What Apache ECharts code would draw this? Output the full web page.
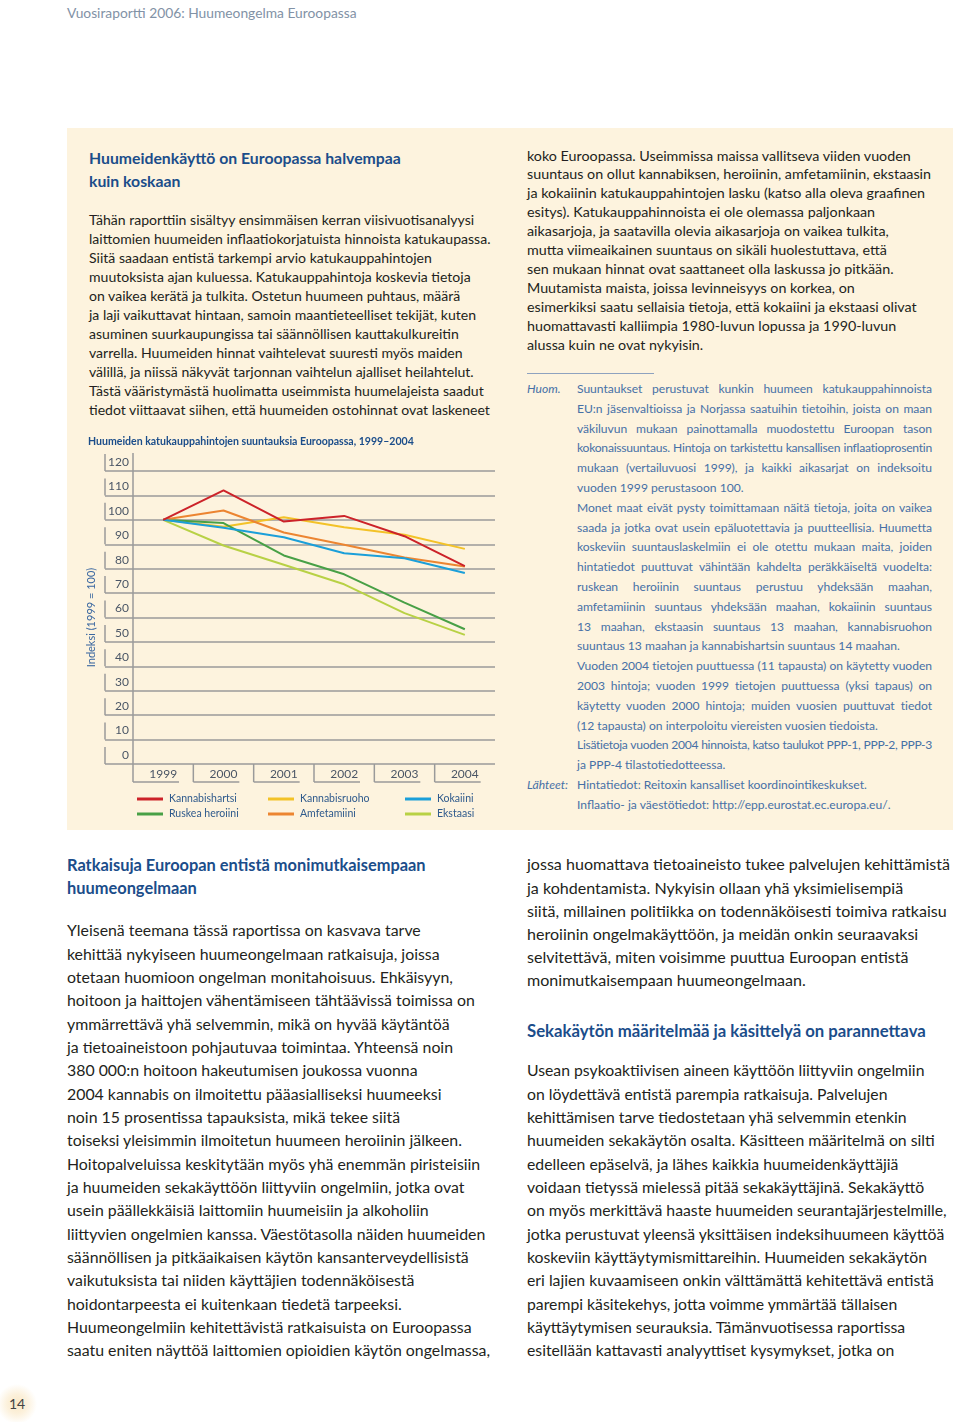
<!DOCTYPE html>
<html><head><meta charset="utf-8">
<script src="https://cdn.jsdelivr.net/npm/echarts/dist/echarts.min.js"></script>
<style>
html,body{margin:0;padding:0;background:#fff;}
body{width:960px;height:1422px;position:relative;overflow:hidden;font-family:Lato,'Open Sans',sans-serif;color:#231f20;}
.abs{position:absolute;}
.ln{white-space:nowrap;}
.j{text-align:justify;text-align-last:justify;white-space:normal;}
.blue{color:#1b4d8a;font-weight:bold;}
.note{color:#4670a6;}
</style></head>
<body>
<div class="abs" id="hdr" style="left:67px;top:4px;font-size:13.5px;line-height:17px;color:#8292a6;"><div class="ln">Vuosiraportti 2006: Huumeongelma Euroopassa</div></div>

<div class="abs" style="left:67px;top:128px;width:886px;height:702px;background:#fdf3de;"></div>

<div class="abs blue" id="t1" style="left:89px;top:145.5px;font-size:16.5px;line-height:23px;">
<div class="ln">Huumeidenkäyttö on Euroopassa halvempaa</div>
<div class="ln">kuin koskaan</div></div>

<div class="abs" id="b1" style="left:89px;top:209.5px;font-size:13.5px;line-height:19px;">
<div class="ln">Tähän raporttiin sisältyy ensimmäisen kerran viisivuotisanalyysi</div>
<div class="ln">laittomien huumeiden inflaatiokorjatuista hinnoista katukaupassa.</div>
<div class="ln">Siitä saadaan entistä tarkempi arvio katukauppahintojen</div>
<div class="ln">muutoksista ajan kuluessa. Katukauppahintoja koskevia tietoja</div>
<div class="ln">on vaikea kerätä ja tulkita. Ostetun huumeen puhtaus, määrä</div>
<div class="ln">ja laji vaikuttavat hintaan, samoin maantieteelliset tekijät, kuten</div>
<div class="ln">asuminen suurkaupungissa tai säännöllisen kauttakulkureitin</div>
<div class="ln">varrella. Huumeiden hinnat vaihtelevat suuresti myös maiden</div>
<div class="ln">välillä, ja niissä näkyvät tarjonnan vaihtelun ajalliset heilahtelut.</div>
<div class="ln">Tästä vääristymästä huolimatta useimmista huumelajeista saadut</div>
<div class="ln">tiedot viittaavat siihen, että huumeiden ostohinnat ovat laskeneet</div>
</div>

<div class="abs" id="b2" style="left:527px;top:146.5px;font-size:13.5px;line-height:18.9px;">
<div class="ln">koko Euroopassa. Useimmissa maissa vallitseva viiden vuoden</div>
<div class="ln">suuntaus on ollut kannabiksen, heroiinin, amfetamiinin, ekstaasin</div>
<div class="ln">ja kokaiinin katukauppahintojen lasku (katso alla oleva graafinen</div>
<div class="ln">esitys). Katukauppahinnoista ei ole olemassa paljonkaan</div>
<div class="ln">aikasarjoja, ja saatavilla olevia aikasarjoja on vaikea tulkita,</div>
<div class="ln">mutta viimeaikainen suuntaus on sikäli huolestuttava, että</div>
<div class="ln">sen mukaan hinnat ovat saattaneet olla laskussa jo pitkään.</div>
<div class="ln">Muutamista maista, joissa levinneisyys on korkea, on</div>
<div class="ln">esimerkiksi saatu sellaisia tietoja, että kokaiini ja ekstaasi olivat</div>
<div class="ln">huomattavasti kalliimpia 1980-luvun lopussa ja 1990-luvun</div>
<div class="ln">alussa kuin ne ovat nykyisin.</div>
</div>

<div class="abs" style="left:527px;top:372.5px;width:127px;height:1px;background:#8ea2bf;"></div>

<div class="abs note" id="lab" style="left:527px;top:379.1px;font-size:12.3px;line-height:19.8px;font-style:italic;">
<div class="ln">Huom.</div>
<div class="ln" style="margin-top:376.2px;">Lähteet:</div>
</div>

<div class="abs note" id="nt" style="left:577px;top:379.1px;width:355px;font-size:12.3px;line-height:19.8px;">
<div class="ln j">Suuntaukset perustuvat kunkin huumeen katukauppahinnoista</div>
<div class="ln j">EU:n jäsenvaltioissa ja Norjassa saatuihin tietoihin, joista on maan</div>
<div class="ln j">väkiluvun mukaan painottamalla muodostettu Euroopan tason</div>
<div class="ln j">kokonaissuuntaus. Hintoja on tarkistettu kansallisen inflaatioprosentin</div>
<div class="ln j">mukaan (vertailuvuosi 1999), ja kaikki aikasarjat on indeksoitu</div>
<div class="ln">vuoden 1999 perustasoon 100.</div>
<div class="ln j">Monet maat eivät pysty toimittamaan näitä tietoja, joita on vaikea</div>
<div class="ln j">saada ja jotka ovat usein epäluotettavia ja puutteellisia. Huumetta</div>
<div class="ln j">koskeviin suuntauslaskelmiin ei ole otettu mukaan maita, joiden</div>
<div class="ln j">hintatiedot puuttuvat vähintään kahdelta peräkkäiseltä vuodelta:</div>
<div class="ln j">ruskean heroiinin suuntaus perustuu yhdeksään maahan,</div>
<div class="ln j">amfetamiinin suuntaus yhdeksään maahan, kokaiinin suuntaus</div>
<div class="ln j">13 maahan, ekstaasin suuntaus 13 maahan, kannabisruohon</div>
<div class="ln">suuntaus 13 maahan ja kannabishartsin suuntaus 14 maahan.</div>
<div class="ln j">Vuoden 2004 tietojen puuttuessa (11 tapausta) on käytetty vuoden</div>
<div class="ln j">2003 hintoja; vuoden 1999 tietojen puuttuessa (yksi tapaus) on</div>
<div class="ln j">käytetty vuoden 2000 hintoja; muiden vuosien puuttuvat tiedot</div>
<div class="ln">(12 tapausta) on interpoloitu viereisten vuosien tiedoista.</div>
<div class="ln j">Lisätietoja vuoden 2004 hinnoista, katso taulukot PPP-1, PPP-2, PPP-3</div>
<div class="ln">ja PPP-4 tilastotiedotteessa.</div>
<div class="ln">Hintatiedot: Reitoxin kansalliset koordinointikeskukset.</div>
<div class="ln">Inflaatio- ja väestötiedot: http://epp.eurostat.ec.europa.eu/.</div>
</div>

<div class="abs" id="chart" style="left:80px;top:430px;width:430px;height:400px;"></div>

<div class="abs blue" id="t2" style="left:67px;top:852.5px;font-size:16.5px;line-height:23px;">
<div class="ln">Ratkaisuja Euroopan entistä monimutkaisempaan</div>
<div class="ln">huumeongelmaan</div></div>

<div class="abs" id="b3" style="left:67px;top:918.3px;font-size:16px;line-height:23.33px;">
<div class="ln">Yleisenä teemana tässä raportissa on kasvava tarve</div>
<div class="ln">kehittää nykyiseen huumeongelmaan ratkaisuja, joissa</div>
<div class="ln">otetaan huomioon ongelman monitahoisuus. Ehkäisyyn,</div>
<div class="ln">hoitoon ja haittojen vähentämiseen tähtäävissä toimissa on</div>
<div class="ln">ymmärrettävä yhä selvemmin, mikä on hyvää käytäntöä</div>
<div class="ln">ja tietoaineistoon pohjautuvaa toimintaa. Yhteensä noin</div>
<div class="ln">380 000:n hoitoon hakeutumisen joukossa vuonna</div>
<div class="ln">2004 kannabis on ilmoitettu pääasialliseksi huumeeksi</div>
<div class="ln">noin 15 prosentissa tapauksista, mikä tekee siitä</div>
<div class="ln">toiseksi yleisimmin ilmoitetun huumeen heroiinin jälkeen.</div>
<div class="ln">Hoitopalveluissa keskitytään myös yhä enemmän piristeisiin</div>
<div class="ln">ja huumeiden sekakäyttöön liittyviin ongelmiin, jotka ovat</div>
<div class="ln">usein päällekkäisiä laittomiin huumeisiin ja alkoholiin</div>
<div class="ln">liittyvien ongelmien kanssa. Väestötasolla näiden huumeiden</div>
<div class="ln">säännöllisen ja pitkäaikaisen käytön kansanterveydellisistä</div>
<div class="ln">vaikutuksista tai niiden käyttäjien todennäköisestä</div>
<div class="ln">hoidontarpeesta ei kuitenkaan tiedetä tarpeeksi.</div>
<div class="ln">Huumeongelmiin kehitettävistä ratkaisuista on Euroopassa</div>
<div class="ln">saatu eniten näyttöä laittomien opioidien käytön ongelmassa,</div>
</div>

<div class="abs" id="b4" style="left:527px;top:852.4px;font-size:16px;line-height:23.2px;">
<div class="ln">jossa huomattava tietoaineisto tukee palvelujen kehittämistä</div>
<div class="ln">ja kohdentamista. Nykyisin ollaan yhä yksimielisempiä</div>
<div class="ln">siitä, millainen politiikka on todennäköisesti toimiva ratkaisu</div>
<div class="ln">heroiinin ongelmakäyttöön, ja meidän onkin seuraavaksi</div>
<div class="ln">selvitettävä, miten voisimme puuttua Euroopan entistä</div>
<div class="ln">monimutkaisempaan huumeongelmaan.</div>
</div>

<div class="abs blue" id="t3" style="left:527px;top:1018.5px;font-size:16.5px;line-height:23px;">
<div class="ln">Sekakäytön määritelmää ja käsittelyä on parannettava</div></div>

<div class="abs" id="b5" style="left:527px;top:1058.3px;font-size:16px;line-height:23.33px;">
<div class="ln">Usean psykoaktiivisen aineen käyttöön liittyviin ongelmiin</div>
<div class="ln">on löydettävä entistä parempia ratkaisuja. Palvelujen</div>
<div class="ln">kehittämisen tarve tiedostetaan yhä selvemmin etenkin</div>
<div class="ln">huumeiden sekakäytön osalta. Käsitteen määritelmä on silti</div>
<div class="ln">edelleen epäselvä, ja lähes kaikkia huumeidenkäyttäjiä</div>
<div class="ln">voidaan tietyssä mielessä pitää sekakäyttäjinä. Sekakäyttö</div>
<div class="ln">on myös merkittävä haaste huumeiden seurantajärjestelmille,</div>
<div class="ln">jotka perustuvat yleensä yksittäisen indeksihuumeen käyttöä</div>
<div class="ln">koskeviin käyttäytymismittareihin. Huumeiden sekakäytön</div>
<div class="ln">eri lajien kuvaamiseen onkin välttämättä kehitettävä entistä</div>
<div class="ln">parempi käsitekehys, jotta voimme ymmärtää tällaisen</div>
<div class="ln">käyttäytymisen seurauksia. Tämänvuotisessa raportissa</div>
<div class="ln">esitellään kattavasti analyyttiset kysymykset, jotka on</div>
</div>

<div class="abs" style="left:0;top:1382px;width:40px;height:44px;background:radial-gradient(circle at 17px 22px,#fae8c6 0,#fcf1dc 10px,rgba(255,255,255,0) 20px);"></div>
<div class="abs" style="left:7px;top:1395px;width:20px;text-align:center;font-size:14px;line-height:18px;color:#444;">14</div>

<script>
// ---------- text fitting ----------
function natW(line){const t=line.textContent;const s=document.createElement('span');s.style.whiteSpace='pre';s.textContent=t;line.textContent='';line.appendChild(s);const w=s.getBoundingClientRect().width;line.textContent=t;return w;}
function fit(id,idx,target){const el=document.getElementById(id);const lines=[...el.querySelectorAll('.ln')];const fs=parseFloat(getComputedStyle(el).fontSize);const k=target/natW(lines[idx]);el.style.fontSize=(fs*k)+'px';return fs*k;}
fit('hdr',0,290);
fit('t1',0,312);
fit('b1',1,402);
fit('b2',0,384);
const nfs=fit('nt',20,290);
document.getElementById('lab').style.fontSize=nfs+'px';
// squeeze over-long justified note lines with letter-spacing so they stay on one line
document.querySelectorAll('#nt .ln').forEach(l=>{const w=natW(l);const max=353;if(w>max){l.style.letterSpacing=((max-w)/l.textContent.length)+'px';}});
fit('t2',0,359);
fit('b3',3,408);
fit('b4',2,420);
fit('t3',0,399);
fit('b5',6,420);

// ---------- chart data ----------
const chartTitle = 'Huumeiden katukauppahintojen suuntauksia Euroopassa, 1999–2004';
const yAxisTitle = 'Indeksi (1999 = 100)';
const years = ['1999','2000','2001','2002','2003','2004'];
const yTicks = [0,10,20,30,40,50,60,70,80,90,100,110,120];
const kannabishartsi = [100, 112.1, 99.3, 101.6, 93.3, 81.0];
const kannabisruoho  = [100, 97.2, 101.1, 97.0, 93.9, 88.1];
const kokaiini       = [100, 96.8, 92.9, 86.3, 84.3, 78.2];
const ruskeaHeroiini = [100, 98.7, 85.4, 77.7, 66.1, 55.2];
const amfetamiini    = [100, 103.8, 94.8, 89.8, 84.6, 80.9];
const ekstaasi       = [100, 89.5, 81.6, 73.6, 61.8, 52.9];

const FONT = 'Lato';
const GRID = '#9a9a9a';
const C = {hartsi:'#cc2229', ruoho:'#f3c227', koka:'#1b9fd9', hero:'#48a046', amfe:'#ec8531', ekst:'#b8d145'};

const mctx = document.createElement('canvas').getContext('2d');
function fsFor(text, weight, target, base){mctx.font = weight+' '+base+'px '+FONT; return base*target/mctx.measureText(text).width;}
const titleFs = fsFor(chartTitle,'bold',326,11);
const legFs = fsFor('Kannabishartsi','normal',68,11);

function lineSeries(name, data, color){
  return {name, type:'line', data, symbol:'none', silent:true, z:3,
    lineStyle:{width:2, color}, itemStyle:{color}};
}
const legBase = {orient:'vertical', top:357, itemWidth:26, itemHeight:3, itemGap:1, icon:'rect', selectedMode:false,
  textStyle:{fontFamily:FONT, fontSize:legFs, lineHeight:14, color:'#2f5a8c', padding:[0,0,0,1]}};

const chart = echarts.init(document.getElementById('chart'), null, {renderer:'canvas'});
chart.setOption({
  animation:false,
  textStyle:{fontFamily:FONT},
  title:{text:chartTitle, left:8, top:6, padding:0,
    textStyle:{fontFamily:FONT, fontSize:titleFs, fontWeight:'bold', color:'#1b4d8a'}},
  grid:{left:53, top:41, width:362, height:293, containLabel:false, outerBoundsMode:'none'},
  xAxis:{type:'category', data:years, boundaryGap:true,
    axisLine:{show:false}, axisTick:{show:false}, splitLine:{show:false},
    axisLabel:{margin:4, fontSize:12, color:'#4b5666', fontFamily:FONT}},
  yAxis:{type:'value', min:0, max:120, interval:10,
    name:yAxisTitle, nameLocation:'middle', nameGap:35, nameRotate:90,
    nameTextStyle:{fontSize:11, color:'#3a67a0', fontFamily:FONT},
    axisLine:{show:false},
    axisTick:{show:true, length:28, lineStyle:{color:GRID, width:1.5}},
    axisLabel:{margin:4, fontSize:12, color:'#4b5666', verticalAlign:'bottom', padding:[0,0,3,0], fontFamily:FONT},
    splitLine:{show:true, lineStyle:{color:GRID, width:1.5}}},
  legend:[
    Object.assign({}, legBase, {left:52, data:['Kannabishartsi','Ruskea heroiini']}),
    Object.assign({}, legBase, {left:183, data:['Kannabisruoho','Amfetamiini']}),
    Object.assign({}, legBase, {left:320, data:['Kokaiini','Ekstaasi']})
  ],
  series:[
    {type:'custom', silent:true, clip:false, z:1,
      data: yTicks.map(v => [years[0], v]),
      renderItem:(params, api) => {
        const cs = params.coordSys;
        const v = api.value(1);
        const y = api.coord([api.value(0), v])[1];
        const st = {stroke:GRID, lineWidth:1.5};
        const ch = [{type:'line', shape:{x1:cs.x-28, y1:y, x2:cs.x-28, y2:y-17}, style:st}];
        if (v === yTicks[yTicks.length-1]) {
          ch.push({type:'line', shape:{x1:cs.x, y1:y-18, x2:cs.x, y2:cs.y+cs.height}, style:st});
        }
        return {type:'group', children:ch};
      }},
    {type:'custom', silent:true, clip:false, z:1,
      data: years.map(y => [y, 0]),
      renderItem:(params, api) => {
        const p = api.coord([api.value(0), 0]);
        const bw = api.size([1, 0])[0];
        const l = p[0] - bw/2;
        const st = {stroke:GRID, lineWidth:1.5};
        return {type:'group', children:[
          {type:'line', shape:{x1:l, y1:p[1], x2:l, y2:p[1]+18}, style:st},
          {type:'line', shape:{x1:l, y1:p[1]+18, x2:l+46, y2:p[1]+18}, style:st}
        ]};
      }},
    lineSeries('Kannabisruoho', kannabisruoho, C.ruoho),
    lineSeries('Ekstaasi', ekstaasi, C.ekst),
    lineSeries('Ruskea heroiini', ruskeaHeroiini, C.hero),
    lineSeries('Amfetamiini', amfetamiini, C.amfe),
    lineSeries('Kokaiini', kokaiini, C.koka),
    lineSeries('Kannabishartsi', kannabishartsi, C.hartsi)
  ]
});
</script>
</body></html>
